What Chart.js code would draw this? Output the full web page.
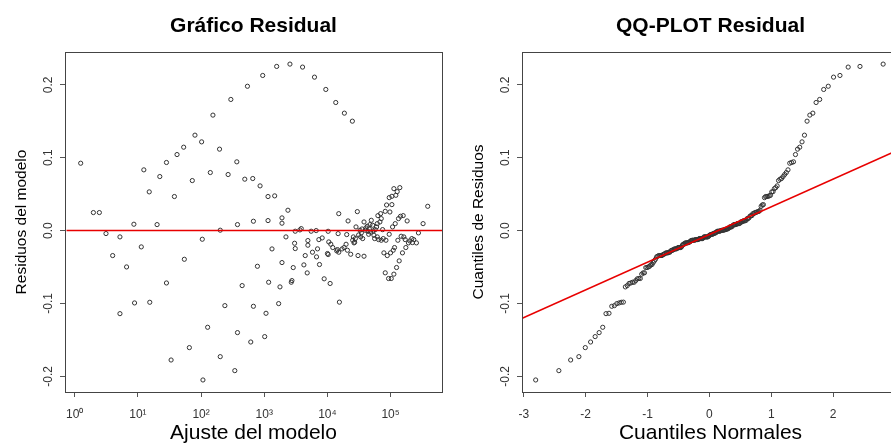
<!DOCTYPE html>
<html lang="es">
<head>
<meta charset="utf-8">
<title>Gráfico Residual / QQ-PLOT Residual</title>
<script src="https://cdn.jsdelivr.net/npm/chart.js@4.4.1/dist/chart.umd.min.js"></script>
<style>
  html, body { margin: 0; padding: 0; background: #fff; }
  #page { position: relative; width: 891px; height: 444px; overflow: hidden; background: #fff; }
  .panel { position: absolute; top: 0; width: 456px; height: 444px; }
  #left { left: 0; }
  #right { left: 457px; }
</style>
</head>
<body>
<div id="page">
  <div class="panel" id="left"><canvas id="residChart" width="456" height="444"></canvas></div>
  <div class="panel" id="right"><canvas id="qqChart" width="456" height="444"></canvas></div>
</div>
<script>
// fitted values (log axis) and their residuals
const fitted = [
  1.24, 1.97, 2.45, 3.12, 3.98, 5.19, 5.19, 6.61, 8.63, 8.84,
  11.3, 12.4, 15.1, 15.4, 20.1, 22.2, 28.3, 28.3, 33.5, 37.8,
  41.6, 53.0, 54.3, 65.2, 72.6, 80.0, 102, 104.5, 107, 127,
  140, 154, 196, 201, 201, 238, 268, 296, 342, 368,
  377, 377, 447, 492, 542, 612, 658, 674, 674, 780,
  859, 946, 1017, 1067, 1148, 1148, 1175, 1327, 1463, 1574,
  1692, 1775, 1910, 1910, 1910, 2207, 2373, 2553, 2680, 2743,
  2878, 3025, 3098, 3098, 3672, 3854, 4045, 4246, 4456, 4790,
  4909, 4909, 5537, 5808, 6249,
  9441, 13570, 18580, 24860,
  6650, 7330, 8270, 6980, 6730, 7500, 8890, 11050, 15500, 10280,
  10520, 11320, 12170, 10030, 10280, 14070, 14420, 15140, 14790, 15140,
  17100, 18370, 19770, 20240, 21250, 20750, 23400, 25180, 25770, 26420,
  27040, 27730, 28380, 29790, 30550, 31260, 32880, 33650, 34510, 35320,
  36220, 38020, 38020, 39900, 40830, 42850, 43950, 44980, 46130, 47210,
  48420, 49550, 52000, 53330, 54580, 55980, 57280, 60120, 61660, 61660,
  63100, 64710, 67920, 69660, 71290, 71290, 74820, 76740, 78520, 82410,
  82410, 84530, 86500, 88720, 93110, 95280, 95280, 97720, 100000, 102600,
  105000, 105000, 107600, 110200, 113000, 113000, 115600, 118600, 121300, 124500,
  127400, 130600, 133700, 137100, 140300, 143900, 147200, 154500, 158500, 162200,
  170600, 174600, 183200, 192300, 201800, 217300, 222300, 233300, 257000, 276700,
  327600, 388200
];
const residuals = [
  0.0924, 0.0247, 0.0247, -0.0041, -0.0343, -0.114, -0.0087, -0.0499, 0.0087, -0.0993,
  -0.0224, 0.0833, 0.0531, -0.0984, 0.0082, 0.0741, 0.0934, -0.0719, -0.1776, 0.0467,
  0.1043, 0.1144, -0.0394, -0.1606, 0.0686, 0.1309, 0.1217, -0.0119, -0.205, -0.1327,
  0.0796, 0.1584, 0.1117, -0.173, 0.0005, -0.103, 0.0769, 0.1799, -0.1922, 0.0943,
  -0.140, 0.0082, -0.0755, 0.0705, 0.198, -0.1529, 0.0714, 0.0128, -0.1039, -0.049,
  0.0613, 0.2128, -0.1455, -0.1135, 0.0467, 0.0137, -0.0709, -0.0252, 0.0476, 0.2252,
  -0.1002, -0.0773, -0.0439, 0.0174, 0.0101, -0.0087, 0.0279, 0.2284, -0.0709, -0.0686,
  -0.0508, -0.0174, -0.0247, -0.0009, 0.0009, 0.0027, 0.2243, -0.0471, -0.0343, -0.0581,
  -0.0137, -0.0201, -0.0009, -0.0297, 0.2105,
  0.1936, 0.1757, 0.1611, 0.1501,
  0.0000, -0.0124, -0.0101, -0.0251, -0.0361, -0.0466, -0.0662, -0.0726, -0.0982, -0.0010,
  -0.0156, -0.0187, -0.0233, -0.0315, -0.0329, -0.0279, -0.0261, -0.0297, -0.0042, 0.0232,
  -0.0252, -0.0233, -0.0188, -0.0055, 0.0132, -0.0270, -0.0325, -0.0133, -0.0087, -0.0169,
  -0.0160, -0.0110, 0.0050, 0.0260, -0.0343, -0.0060, 0.0004, -0.0087, -0.0032, 0.0022,
  -0.0110, -0.0352, 0.0118, 0.0004, 0.0036, 0.0059, -0.0010, -0.0051, 0.0022, 0.0082,
  -0.0023, 0.0141, 0.0073, -0.0005, -0.0064, -0.0110, 0.0013, 0.0050, 0.0095, -0.0087,
  0.0205, -0.0124, 0.0118, 0.0232, -0.0133, 0.0164, 0.0013, -0.0110, -0.0306, 0.0264,
  -0.0580, -0.0133, 0.0351, -0.0343, -0.0658, 0.0452, -0.0051, 0.0255, -0.0306, -0.0658,
  0.0470, 0.0356, 0.0050, -0.0270, -0.0598, 0.0575, -0.0233, 0.0095, 0.0484, -0.0507,
  0.0534, -0.0133, 0.0164, -0.0416, 0.0589, 0.0196, -0.0078, -0.0306, 0.0205, -0.0087,
  -0.0124, -0.0233, 0.0132, -0.0169, -0.0142, -0.0110, -0.0165, -0.0124, -0.0169, -0.0032,
  0.0095, 0.0333
];

// axes
const fittedRange = [0.74, 653000];
const fittedTicks = [1, 10, 100, 1000, 10000, 100000];
const fittedTickLabels = ['10⁰', '10¹', '10²', '10³', '10⁴', '10⁵'];
const residRange = [-0.2215, 0.245];
const residTicks = [-0.2, -0.1, 0, 0.1, 0.2];
const normRange = [-3.03, 3.065];
const normTicks = [-3, -2, -1, 0, 1, 2, 3];

// qqline (two points of the red line)
const qqLineX = [-3.2, 3.2];
const qqLineY = [-0.1271, 0.1161];

// inverse normal cdf (Acklam), used for the theoretical quantiles of qqnorm
function qnorm(p) {
  const a = [-3.969683028665376e+01, 2.209460984245205e+02, -2.759285104469687e+02, 1.383577518672690e+02, -3.066479806614716e+01, 2.506628277459239e+00];
  const b = [-5.447609879822406e+01, 1.615858368580409e+02, -1.556989798598866e+02, 6.680131188771972e+01, -1.328068155288572e+01];
  const c = [-7.784894002430293e-03, -3.223964580411365e-01, -2.400758277161838e+00, -2.549732539343734e+00, 4.374664141464968e+00, 2.938163982698783e+00];
  const d = [7.784695709041462e-03, 3.224671290700398e-01, 2.445134137142996e+00, 3.754408661907416e+00];
  const plow = 0.02425;
  let q, r;
  if (p < plow || p > 1 - plow) {
    q = Math.sqrt(-2 * Math.log(p < plow ? p : 1 - p));
    const v = (((((c[0]*q+c[1])*q+c[2])*q+c[3])*q+c[4])*q+c[5]) / ((((d[0]*q+d[1])*q+d[2])*q+d[3])*q+1);
    return p < plow ? v : -v;
  }
  q = p - 0.5; r = q * q;
  return (((((a[0]*r+a[1])*r+a[2])*r+a[3])*r+a[4])*r+a[5])*q / (((((b[0]*r+b[1])*r+b[2])*r+b[3])*r+b[4])*r+1);
}

const FONT = '"Liberation Sans", Arial, Helvetica, sans-serif';
Chart.defaults.font.family = FONT;
Chart.defaults.color = '#333';
Chart.defaults.animation = false;
Chart.defaults.events = [];

const RED = '#e80000';
const POINT = {
  showLine: false, pointStyle: 'circle', pointRadius: 2.1, borderWidth: 1,
  borderColor: '#333', backgroundColor: 'rgba(0,0,0,0)'
};

// R style box around the plot region
const boxPlugin = {
  id: 'box',
  afterDraw(chart) {
    const { ctx, chartArea: a } = chart;
    ctx.save();
    ctx.strokeStyle = '#444';
    ctx.lineWidth = 1;
    ctx.strokeRect(Math.round(a.left) + 0.5, Math.round(a.top) + 0.5,
      Math.round(a.right - a.left), Math.round(a.bottom - a.top));
    ctx.restore();
  }
};

const tickGrid = { display: true, drawOnChartArea: false, drawTicks: true, tickLength: 5, tickColor: '#555', tickWidth: 1 };

function yScale(titleText) {
  return {
    type: 'linear',
    min: residRange[0], max: residRange[1],
    afterBuildTicks: s => { s.ticks = residTicks.map(v => ({ value: v })); },
    afterFit: s => { s.width = 65; },
    border: { display: false },
    grid: tickGrid,
    ticks: {
      minRotation: 90, maxRotation: 90, crossAlign: 'center', padding: 1,
      color: '#333', font: { size: 12 }, callback: v => v.toFixed(1)
    },
    title: { display: true, text: titleText, color: '#000', font: { size: 15.5 }, padding: { top: 12, bottom: 0 } }
  };
}

function xTitle(text) {
  return { display: true, text: text, color: '#000', font: { size: 21, lineHeight: 1 }, padding: { top: 0, bottom: 0 } };
}

function plotTitle(text) {
  return {
    display: true, text: text, color: '#000', fullSize: false,
    font: { size: 21, weight: 'bold' }, padding: { top: 14, bottom: 12.8 }
  };
}

// left: residuals vs fitted
const residPoints = fitted.map((x, i) => ({ x: x, y: residuals[i] }));

new Chart(document.getElementById('residChart'), {
  type: 'scatter',
  data: {
    datasets: [
      {
        data: [{ x: fittedRange[0], y: 0 }, { x: fittedRange[1], y: 0 }],
        showLine: true, borderColor: RED, borderWidth: 1.6, pointRadius: 0, clip: 0
      },
      Object.assign({ data: residPoints }, POINT)
    ]
  },
  options: {
    responsive: false,
    layout: { padding: { left: 0, right: 14, top: 0, bottom: 0 } },
    plugins: { legend: { display: false }, tooltip: { enabled: false }, title: plotTitle('Gráfico Residual') },
    scales: {
      x: {
        type: 'logarithmic',
        min: fittedRange[0], max: fittedRange[1],
        afterBuildTicks: s => { s.ticks = fittedTicks.map(v => ({ value: v })); },
        afterFit: s => { s.height = 52; },
        border: { display: false },
        grid: tickGrid,
        ticks: {
          autoSkip: false, minRotation: 0, maxRotation: 0, padding: 10,
          color: '#333', font: { size: 12 }, callback: (v, i) => fittedTickLabels[i]
        },
        title: xTitle('Ajuste del modelo')
      },
      y: yScale('Residuos del modelo')
    }
  },
  plugins: [boxPlugin]
});

// right: normal QQ plot of the same residuals
const sorted = residuals.slice().sort((a, b) => a - b);
const qqPoints = sorted.map((y, i) => ({ x: qnorm((i + 0.5) / sorted.length), y: y }));

new Chart(document.getElementById('qqChart'), {
  type: 'scatter',
  data: {
    datasets: [
      {
        data: qqLineX.map((x, i) => ({ x: x, y: qqLineY[i] })),
        showLine: true, borderColor: RED, borderWidth: 1.6, pointRadius: 0, clip: 0
      },
      Object.assign({ data: qqPoints }, POINT)
    ]
  },
  options: {
    responsive: false,
    layout: { padding: { left: 0, right: 14, top: 0, bottom: 0 } },
    plugins: { legend: { display: false }, tooltip: { enabled: false }, title: plotTitle('QQ-PLOT Residual') },
    scales: {
      x: {
        type: 'linear',
        min: normRange[0], max: normRange[1],
        afterBuildTicks: s => { s.ticks = normTicks.map(v => ({ value: v })); },
        afterFit: s => { s.height = 52; },
        border: { display: false },
        grid: tickGrid,
        ticks: {
          autoSkip: false, minRotation: 0, maxRotation: 0, padding: 10,
          color: '#333', font: { size: 12 }, callback: v => String(v)
        },
        title: xTitle('Cuantiles Normales')
      },
      y: yScale('Cuantiles de Residuos')
    }
  },
  plugins: [boxPlugin]
});
</script>
</body>
</html>
